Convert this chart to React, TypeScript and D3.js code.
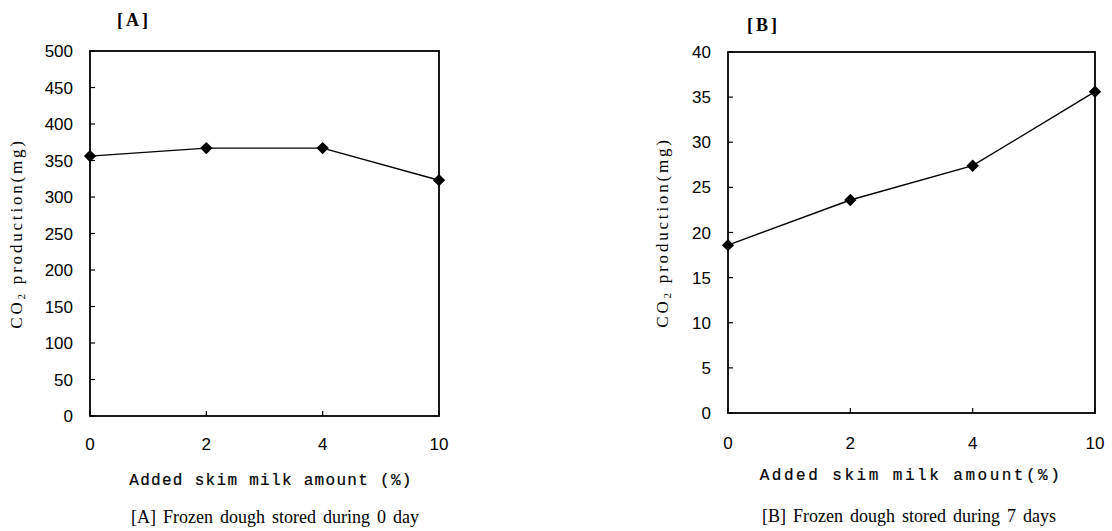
import React from "react";
import * as d3 from "d3";

// Skim milk levels (%) shown on both panels
const milkLevels = ["0", "2", "4", "10"];

// CO2 production (mg), frozen dough stored 0 days
const day0Co2 = [356, 367, 367, 323];
const day0Ticks = [0, 50, 100, 150, 200, 250, 300, 350, 400, 450, 500];

// CO2 production (mg), frozen dough stored 7 days
const day7Co2 = [18.6, 23.6, 27.4, 35.6];
const day7Ticks = [0, 5, 10, 15, 20, 25, 30, 35, 40];

type PanelProps = {
  values: number[];
  ticks: number[];
  yMax: number;
  left: number;
  right: number;
  top: number;
  bottom: number;
  tag: string;
  tagX: number;
  tagY: number;
  yLabelX: number;
  xTickY: number;
  xTitle: string;
  xTitleX: number;
  xTitleY: number;
  xTitleSpacing: number;
  caption: string;
  captionX: number;
  captionY: number;
};

const tickFont = "'Liberation Sans', Arial, sans-serif";
const monoFont = "'Liberation Mono', 'Courier New', monospace";
const serifFont = "'Liberation Serif', 'Times New Roman', serif";

function Panel(p: PanelProps) {
  const x = d3.scalePoint<string>().domain(milkLevels).range([p.left, p.right]);
  const y = d3.scaleLinear().domain([0, p.yMax]).range([p.bottom, p.top]);
  const line = d3
    .line<number>()
    .x((_, i) => x(milkLevels[i]) as number)
    .y((d) => y(d));
  const diamond = d3.symbol().type(d3.symbolSquare).size(76)();
  const midY = (p.top + p.bottom) / 2;

  return (
    <g>
      <text
        x={p.tagX}
        y={p.tagY}
        fontFamily={serifFont}
        fontWeight="bold"
        fontSize={18}
        letterSpacing={3}
      >
        {p.tag}
      </text>

      {/* frame */}
      <rect
        x={p.left}
        y={p.top}
        width={p.right - p.left}
        height={p.bottom - p.top}
        fill="none"
        stroke="#000"
        strokeWidth={1.8}
      />

      {/* y ticks */}
      {p.ticks.map((t) => (
        <g key={"y" + t}>
          <line x1={p.left} x2={p.left + 5} y1={y(t)} y2={y(t)} stroke="#000" strokeWidth={1.2} />
          <text
            x={p.left - 17}
            y={y(t)}
            dy="0.36em"
            textAnchor="end"
            fontFamily={tickFont}
            fontSize={17}
          >
            {t}
          </text>
        </g>
      ))}

      {/* x ticks */}
      {milkLevels.map((c) => (
        <g key={"x" + c}>
          <line
            x1={x(c)}
            x2={x(c)}
            y1={p.bottom}
            y2={p.bottom - 5}
            stroke="#000"
            strokeWidth={1.2}
          />
          <text
            x={x(c)}
            y={p.xTickY}
            textAnchor="middle"
            fontFamily={tickFont}
            fontSize={17}
          >
            {c}
          </text>
        </g>
      ))}

      {/* series */}
      <path d={line(p.values) || ""} fill="none" stroke="#000" strokeWidth={1.4} />
      {p.values.map((v, i) => (
        <path
          key={"m" + i}
          d={diamond || ""}
          transform={`translate(${x(milkLevels[i])},${y(v)}) rotate(45)`}
          fill="#000"
        />
      ))}

      {/* y title */}
      <text
        transform={`translate(${p.yLabelX},${midY}) rotate(-90)`}
        textAnchor="middle"
        fontFamily={serifFont}
        fontSize={17}
        letterSpacing={2.8}
      >
        CO
        <tspan fontSize={11} dy={3}>
          2
        </tspan>
        <tspan dy={-3}> production(mg)</tspan>
      </text>

      {/* x title */}
      <text
        x={p.xTitleX}
        y={p.xTitleY}
        textAnchor="middle"
        fontFamily={monoFont}
        fontSize={16}
        letterSpacing={p.xTitleSpacing}
        stroke="#000"
        strokeWidth={0.2}
      >
        {p.xTitle}
      </text>

      {/* caption */}
      <text
        x={p.captionX}
        y={p.captionY}
        textAnchor="middle"
        fontFamily={serifFont}
        fontSize={18}
        wordSpacing={2.5}
      >
        {p.caption}
      </text>
    </g>
  );
}

export default function App() {
  return (
    <svg
      width={1112}
      height={531}
      style={{ position: "absolute", left: 0, top: 0, background: "#fff" }}
    >
      <rect width={1112} height={531} fill="#fff" />
      <Panel
        values={day0Co2}
        ticks={day0Ticks}
        yMax={500}
        left={90}
        right={439}
        top={51}
        bottom={416}
        tag="[A]"
        tagX={117}
        tagY={26}
        yLabelX={22}
        xTickY={450}
        xTitle="Added skim milk amount (%)"
        xTitleX={271}
        xTitleY={485}
        xTitleSpacing={1.3}
        caption="[A] Frozen dough stored during 0 day"
        captionX={275}
        captionY={523}
      />
      <Panel
        values={day7Co2}
        ticks={day7Ticks}
        yMax={40}
        left={728}
        right={1095}
        top={52}
        bottom={413}
        tag="[B]"
        tagX={747}
        tagY={31}
        yLabelX={668}
        xTickY={449}
        xTitle="Added skim milk amount(%)"
        xTitleX={911}
        xTitleY={480}
        xTitleSpacing={2.5}
        caption="[B] Frozen dough stored during 7 days"
        captionX={909}
        captionY={522}
      />
    </svg>
  );
}
